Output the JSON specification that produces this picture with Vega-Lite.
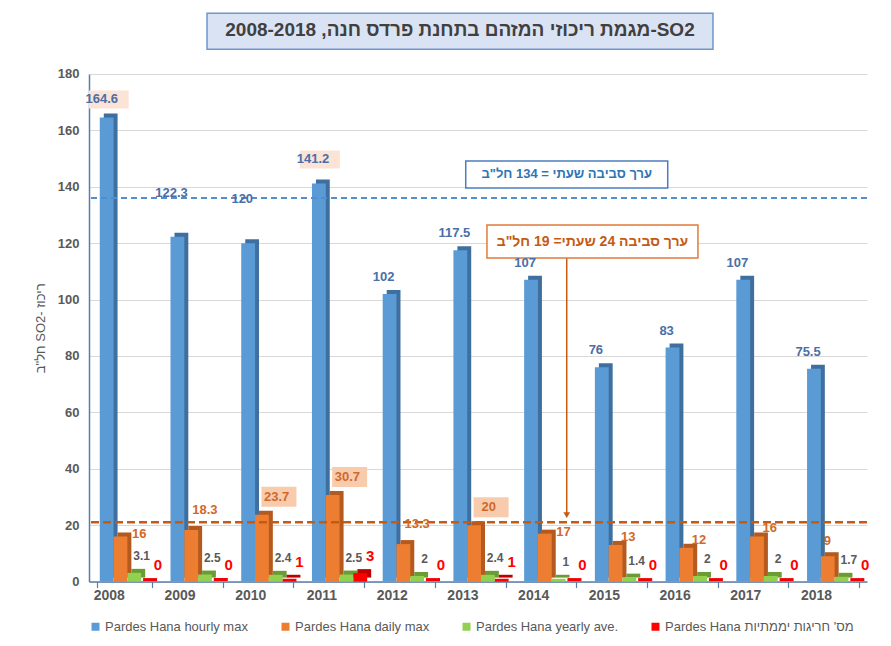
{
  "$schema": "https://vega.github.io/schema/vega-lite/v6.json",
  "width": 778,
  "height": 507.6,
  "padding": {"left": 34, "top": 12, "right": 20, "bottom": 4},
  "background": "white",
  "config": {
    "view": {"stroke": null},
    "font": "Liberation Sans"
  },
  "title": {
    "text": "\u202BSO2-מגמת ריכוזי המזהם בתחנת פרדס חנה, 2008-2018\u202C",
    "font": "Liberation Sans",
    "fontSize": 19,
    "fontWeight": "bold",
    "color": "#404040",
    "anchor": "middle",
    "dx": -18,
    "offset": -28
  },
  "resolve": {"scale": {"xOffset": "independent", "color": "independent"}},
  "datasets": {
    "so2": [
      {"year": "2008", "series": "Pardes Hana hourly max", "value": 164.6},
      {"year": "2009", "series": "Pardes Hana hourly max", "value": 122.3},
      {"year": "2010", "series": "Pardes Hana hourly max", "value": 120},
      {"year": "2011", "series": "Pardes Hana hourly max", "value": 141.2},
      {"year": "2012", "series": "Pardes Hana hourly max", "value": 102},
      {"year": "2013", "series": "Pardes Hana hourly max", "value": 117.5},
      {"year": "2014", "series": "Pardes Hana hourly max", "value": 107},
      {"year": "2015", "series": "Pardes Hana hourly max", "value": 76},
      {"year": "2016", "series": "Pardes Hana hourly max", "value": 83},
      {"year": "2017", "series": "Pardes Hana hourly max", "value": 107},
      {"year": "2018", "series": "Pardes Hana hourly max", "value": 75.5},
      {"year": "2008", "series": "Pardes Hana daily max", "value": 16},
      {"year": "2009", "series": "Pardes Hana daily max", "value": 18.3},
      {"year": "2010", "series": "Pardes Hana daily max", "value": 23.7},
      {"year": "2011", "series": "Pardes Hana daily max", "value": 30.7},
      {"year": "2012", "series": "Pardes Hana daily max", "value": 13.3},
      {"year": "2013", "series": "Pardes Hana daily max", "value": 20},
      {"year": "2014", "series": "Pardes Hana daily max", "value": 17},
      {"year": "2015", "series": "Pardes Hana daily max", "value": 13},
      {"year": "2016", "series": "Pardes Hana daily max", "value": 12},
      {"year": "2017", "series": "Pardes Hana daily max", "value": 16},
      {"year": "2018", "series": "Pardes Hana daily max", "value": 9},
      {"year": "2008", "series": "Pardes Hana yearly ave.", "value": 3.1},
      {"year": "2009", "series": "Pardes Hana yearly ave.", "value": 2.5},
      {"year": "2010", "series": "Pardes Hana yearly ave.", "value": 2.4},
      {"year": "2011", "series": "Pardes Hana yearly ave.", "value": 2.5},
      {"year": "2012", "series": "Pardes Hana yearly ave.", "value": 2},
      {"year": "2013", "series": "Pardes Hana yearly ave.", "value": 2.4},
      {"year": "2014", "series": "Pardes Hana yearly ave.", "value": 1},
      {"year": "2015", "series": "Pardes Hana yearly ave.", "value": 1.4},
      {"year": "2016", "series": "Pardes Hana yearly ave.", "value": 2},
      {"year": "2017", "series": "Pardes Hana yearly ave.", "value": 2},
      {"year": "2018", "series": "Pardes Hana yearly ave.", "value": 1.7},
      {"year": "2008", "series": "Pardes Hana מס' חריגות יממתיות", "value": 0},
      {"year": "2009", "series": "Pardes Hana מס' חריגות יממתיות", "value": 0},
      {"year": "2010", "series": "Pardes Hana מס' חריגות יממתיות", "value": 1},
      {"year": "2011", "series": "Pardes Hana מס' חריגות יממתיות", "value": 3},
      {"year": "2012", "series": "Pardes Hana מס' חריגות יממתיות", "value": 0},
      {"year": "2013", "series": "Pardes Hana מס' חריגות יממתיות", "value": 1},
      {"year": "2014", "series": "Pardes Hana מס' חריגות יממתיות", "value": 0},
      {"year": "2015", "series": "Pardes Hana מס' חריגות יממתיות", "value": 0},
      {"year": "2016", "series": "Pardes Hana מס' חריגות יממתיות", "value": 0},
      {"year": "2017", "series": "Pardes Hana מס' חריגות יממתיות", "value": 0},
      {"year": "2018", "series": "Pardes Hana מס' חריגות יממתיות", "value": 0}
    ]
  },
  "layer": [
    {
      "data": {"values": [{}]},
      "mark": {"type": "tick", "size": 506, "thickness": 36, "fill": "#dae3f3", "stroke": "#6f96cc", "strokeWidth": 1.5, "opacity": 1, "xOffset": -18},
      "encoding": {
        "x": {"datum": "2013", "type": "nominal"},
        "y": {"datum": 195.2, "type": "quantitative"}
      }
    },
    {
      "data": {"name": "so2"},
      "mark": {"type": "bar", "yOffset": -4, "y2Offset": 0},
      "encoding": {
        "x": {
          "field": "year", "type": "nominal",
          "scale": {"paddingInner": 0.22, "paddingOuter": 0.11},
          "axis": {"title": null, "labelAngle": 0, "labelFont": "Liberation Sans", "labelFontSize": 14, "labelFontWeight": "bold", "labelColor": "#595959", "labelPadding": 8, "domainColor": "#5a7bab", "domainWidth": 1.5, "tickColor": "#5a7bab", "tickSize": 6, "tickWidth": 1.2, "tickBand": "extent", "grid": false}
        },
        "xOffset": {"field": "series", "type": "nominal", "scale": {"domain": ["Pardes Hana hourly max", "Pardes Hana daily max", "Pardes Hana yearly ave.", "Pardes Hana מס' חריגות יממתיות"], "range": [7, 62.2], "paddingInner": 0, "paddingOuter": 0}},
        "y": {
          "field": "value", "type": "quantitative",
          "scale": {"domain": [0, 180], "nice": false},
          "axis": {"title": "\u202Bריכוז -SO2 חל\"ב\u202C", "titleFont": "Liberation Sans", "titleFontSize": 13, "titleFontWeight": "normal", "titleColor": "#595959", "titlePadding": 10, "values": [0, 20, 40, 60, 80, 100, 120, 140, 160, 180], "labelFont": "Liberation Sans", "labelFontSize": 13, "labelFontWeight": "bold", "labelColor": "#595959", "labelPadding": 10, "ticks": false, "domainColor": "#5a7bab", "domainWidth": 1.5, "grid": true, "gridColor": "#d9d9d9", "gridWidth": 1}
        },
        "color": {"field": "series", "type": "nominal", "scale": {"domain": ["Pardes Hana hourly max", "Pardes Hana daily max", "Pardes Hana yearly ave.", "Pardes Hana מס' חריגות יממתיות"], "range": ["#3f6f9f", "#b45a1e", "#6a9c35", "#c00000"]}, "legend": null}
      }
    },
    {
      "data": {"name": "so2"},
      "mark": {"type": "bar"},
      "encoding": {
        "x": {"field": "year", "type": "nominal"},
        "xOffset": {"field": "series", "type": "nominal", "scale": {"domain": ["Pardes Hana hourly max", "Pardes Hana daily max", "Pardes Hana yearly ave.", "Pardes Hana מס' חריגות יממתיות"], "range": [3, 58.2], "paddingInner": 0, "paddingOuter": 0}},
        "y": {"field": "value", "type": "quantitative"},
        "color": {
          "field": "series", "type": "nominal",
          "scale": {"domain": ["Pardes Hana hourly max", "Pardes Hana daily max", "Pardes Hana yearly ave.", "Pardes Hana מס' חריגות יממתיות"], "range": ["#5b9bd5", "#ed7d31", "#92d050", "#ff0000"]},
          "legend": {"title": null, "orient": "bottom", "direction": "horizontal", "symbolType": "square", "symbolSize": 64, "symbolStrokeWidth": 0, "labelFont": "Liberation Sans", "labelFontSize": 13, "labelColor": "#595959", "columnPadding": 30, "labelOffset": 3, "offset": 17, "labelLimit": 300}
        }
      }
    },
    {
      "data": {"name": "so2"},
      "transform": [{"filter": {"and": [{"field": "series", "equal": "Pardes Hana מס' חריגות יממתיות"}, {"field": "value", "equal": 0}]}}],
      "mark": {"type": "tick", "thickness": 3, "size": 14, "color": "#f00000", "opacity": 1, "yOffset": -2},
      "encoding": {
        "x": {"field": "year", "type": "nominal"},
        "xOffset": {"field": "series", "type": "nominal", "scale": {"domain": ["Pardes Hana hourly max", "Pardes Hana daily max", "Pardes Hana yearly ave.", "Pardes Hana מס' חריגות יממתיות"], "range": [5, 60.2], "paddingInner": 0, "paddingOuter": 0}},
        "y": {"field": "value", "type": "quantitative"}
      }
    },
    {
      "data": {"values": [{}]},
      "mark": {"type": "rule", "color": "#4f8fd0", "strokeWidth": 2, "strokeDash": [6, 4]},
      "encoding": {"y": {"datum": 136, "type": "quantitative"}}
    },
    {
      "data": {"values": [{}]},
      "mark": {"type": "rule", "color": "#c55a11", "strokeWidth": 2.5, "strokeDash": [8, 4]},
      "encoding": {"y": {"datum": 21, "type": "quantitative"}}
    },
    {
      "data": {"name": "so2"},
      "transform": [{"filter": {"and": [{"field": "series", "equal": "Pardes Hana hourly max"}, {"field": "year", "equal": "2008"}]}}],
      "mark": {"type": "tick", "size": 40, "thickness": 18, "color": "#fbe3d5", "opacity": 1, "xOffset": -15.7, "yOffset": -18},
      "encoding": {
        "x": {"field": "year", "type": "nominal"},
        "y": {"field": "value", "type": "quantitative"}
      }
    },
    {
      "data": {"name": "so2"},
      "transform": [{"filter": {"and": [{"field": "series", "equal": "Pardes Hana hourly max"}, {"field": "year", "equal": "2011"}]}}],
      "mark": {"type": "tick", "size": 40, "thickness": 18, "color": "#fbe3d5", "opacity": 1, "xOffset": -16.7, "yOffset": -24},
      "encoding": {
        "x": {"field": "year", "type": "nominal"},
        "y": {"field": "value", "type": "quantitative"}
      }
    },
    {
      "data": {"name": "so2"},
      "transform": [{"filter": {"and": [{"field": "series", "equal": "Pardes Hana daily max"}, {"field": "year", "oneOf": ["2010", "2011", "2013"]}]}}],
      "mark": {"type": "tick", "size": 35, "thickness": 20, "color": "#f8cbad", "opacity": 1, "xOffset": 13.1, "yOffset": -18},
      "encoding": {
        "x": {"field": "year", "type": "nominal"},
        "y": {"field": "value", "type": "quantitative"}
      }
    },
    {
      "data": {"values": [{}]},
      "mark": {"type": "tick", "size": 202, "thickness": 27, "fill": "white", "stroke": "#4a7ebb", "strokeWidth": 1.5, "opacity": 1, "xOffset": 18},
      "encoding": {
        "x": {"datum": "2014", "type": "nominal"},
        "y": {"datum": 144.4, "type": "quantitative"}
      }
    },
    {
      "data": {"values": [{}]},
      "mark": {"type": "text", "text": "\u202Bערך סביבה שעתי = 134 חל\"ב\u202C", "fontSize": 13, "fontWeight": "bold", "color": "#2e75b6", "dx": 18, "baseline": "middle", "align": "center"},
      "encoding": {
        "x": {"datum": "2014", "type": "nominal"},
        "y": {"datum": 144.4, "type": "quantitative"}
      }
    },
    {
      "data": {"values": [{}]},
      "mark": {"type": "rule", "color": "#c55a11", "strokeWidth": 1.5, "xOffset": 18},
      "encoding": {
        "x": {"datum": "2014", "type": "nominal"},
        "y": {"datum": 114.7, "type": "quantitative"},
        "y2": {"datum": 24}
      }
    },
    {
      "data": {"values": [{}]},
      "mark": {"type": "point", "shape": "triangle-down", "filled": true, "size": 45, "color": "#c55a11", "opacity": 1, "xOffset": 18},
      "encoding": {
        "x": {"datum": "2014", "type": "nominal"},
        "y": {"datum": 23.6, "type": "quantitative"}
      }
    },
    {
      "data": {"values": [{}]},
      "mark": {"type": "tick", "size": 211, "thickness": 33, "fill": "white", "stroke": "#e07b3a", "strokeWidth": 1.5, "opacity": 1, "xOffset": -27},
      "encoding": {
        "x": {"datum": "2015", "type": "nominal"},
        "y": {"datum": 120.6, "type": "quantitative"}
      }
    },
    {
      "data": {"values": [{}]},
      "mark": {"type": "text", "text": "\u202Bערך סביבה 24 שעתי= 19 חל\"ב\u202C", "fontSize": 14, "fontWeight": "bold", "color": "#c55a11", "dx": -27, "baseline": "middle", "align": "center"},
      "encoding": {
        "x": {"datum": "2015", "type": "nominal"},
        "y": {"datum": 120.6, "type": "quantitative"}
      }
    },
    {
      "data": {"name": "so2"},
      "transform": [{"filter": {"and": [{"field": "series", "equal": "Pardes Hana hourly max"}, {"field": "year", "oneOf": ["2012", "2013", "2014", "2015", "2016", "2017", "2018"]}]}}],
      "mark": {"type": "text", "dx": 4, "dy": -17, "fontSize": 13, "fontWeight": "bold", "color": "#4a6ea8", "baseline": "middle", "align": "center"},
      "encoding": {
        "x": {"field": "year", "type": "nominal"},
        "xOffset": {"field": "series", "type": "nominal", "scale": {"domain": ["Pardes Hana hourly max", "Pardes Hana daily max", "Pardes Hana yearly ave.", "Pardes Hana מס' חריגות יממתיות"], "paddingInner": 0, "paddingOuter": 0}},
        "y": {"field": "value", "type": "quantitative"},
        "text": {"field": "value", "type": "nominal"}
      }
    },
    {
      "data": {"name": "so2"},
      "transform": [{"filter": {"and": [{"field": "series", "equal": "Pardes Hana hourly max"}, {"field": "year", "oneOf": ["2009", "2010"]}]}}],
      "mark": {"type": "text", "dx": 4, "dy": -44, "fontSize": 13, "fontWeight": "bold", "color": "#4a6ea8", "baseline": "middle", "align": "center"},
      "encoding": {
        "x": {"field": "year", "type": "nominal"},
        "xOffset": {"field": "series", "type": "nominal", "scale": {"domain": ["Pardes Hana hourly max", "Pardes Hana daily max", "Pardes Hana yearly ave.", "Pardes Hana מס' חריגות יממתיות"], "paddingInner": 0, "paddingOuter": 0}},
        "y": {"field": "value", "type": "quantitative"},
        "text": {"field": "value", "type": "nominal"}
      }
    },
    {
      "data": {"name": "so2"},
      "transform": [{"filter": {"and": [{"field": "series", "equal": "Pardes Hana hourly max"}, {"field": "year", "equal": "2008"}]}}],
      "mark": {"type": "text", "dx": 5, "dy": -18, "fontSize": 13, "fontWeight": "bold", "color": "#4a6ea8", "baseline": "middle", "align": "center"},
      "encoding": {
        "x": {"field": "year", "type": "nominal"},
        "xOffset": {"field": "series", "type": "nominal", "scale": {"domain": ["Pardes Hana hourly max", "Pardes Hana daily max", "Pardes Hana yearly ave.", "Pardes Hana מס' חריגות יממתיות"], "paddingInner": 0, "paddingOuter": 0}},
        "y": {"field": "value", "type": "quantitative"},
        "text": {"field": "value", "type": "nominal"}
      }
    },
    {
      "data": {"name": "so2"},
      "transform": [{"filter": {"and": [{"field": "series", "equal": "Pardes Hana hourly max"}, {"field": "year", "equal": "2011"}]}}],
      "mark": {"type": "text", "dx": 4, "dy": -24, "fontSize": 13, "fontWeight": "bold", "color": "#4a6ea8", "baseline": "middle", "align": "center"},
      "encoding": {
        "x": {"field": "year", "type": "nominal"},
        "xOffset": {"field": "series", "type": "nominal", "scale": {"domain": ["Pardes Hana hourly max", "Pardes Hana daily max", "Pardes Hana yearly ave.", "Pardes Hana מס' חריגות יממתיות"], "paddingInner": 0, "paddingOuter": 0}},
        "y": {"field": "value", "type": "quantitative"},
        "text": {"field": "value", "type": "nominal"}
      }
    },
    {
      "data": {"name": "so2"},
      "transform": [{"filter": {"and": [{"field": "series", "equal": "Pardes Hana daily max"}, {"field": "year", "oneOf": ["2010", "2011", "2013"]}]}}],
      "mark": {"type": "text", "dx": 20, "dy": -18, "fontSize": 13, "fontWeight": "bold", "color": "#d0692a", "baseline": "middle", "align": "center"},
      "encoding": {
        "x": {"field": "year", "type": "nominal"},
        "xOffset": {"field": "series", "type": "nominal", "scale": {"domain": ["Pardes Hana hourly max", "Pardes Hana daily max", "Pardes Hana yearly ave.", "Pardes Hana מס' חריגות יממתיות"], "paddingInner": 0, "paddingOuter": 0}},
        "y": {"field": "value", "type": "quantitative"},
        "text": {"field": "value", "type": "nominal"}
      }
    },
    {
      "data": {"name": "so2"},
      "transform": [{"filter": {"and": [{"field": "series", "equal": "Pardes Hana daily max"}, {"field": "year", "oneOf": ["2009", "2012"]}]}}],
      "mark": {"type": "text", "dx": 19, "dy": -20, "fontSize": 13, "fontWeight": "bold", "color": "#d0692a", "baseline": "middle", "align": "center"},
      "encoding": {
        "x": {"field": "year", "type": "nominal"},
        "xOffset": {"field": "series", "type": "nominal", "scale": {"domain": ["Pardes Hana hourly max", "Pardes Hana daily max", "Pardes Hana yearly ave.", "Pardes Hana מס' חריגות יממתיות"], "paddingInner": 0, "paddingOuter": 0}},
        "y": {"field": "value", "type": "quantitative"},
        "text": {"field": "value", "type": "nominal"}
      }
    },
    {
      "data": {"name": "so2"},
      "transform": [{"filter": {"and": [{"field": "series", "equal": "Pardes Hana daily max"}, {"field": "year", "oneOf": ["2008", "2014"]}]}}],
      "mark": {"type": "text", "dx": 24, "dy": -2, "fontSize": 13, "fontWeight": "bold", "color": "#d0692a", "baseline": "middle", "align": "center"},
      "encoding": {
        "x": {"field": "year", "type": "nominal"},
        "xOffset": {"field": "series", "type": "nominal", "scale": {"domain": ["Pardes Hana hourly max", "Pardes Hana daily max", "Pardes Hana yearly ave.", "Pardes Hana מס' חריגות יממתיות"], "paddingInner": 0, "paddingOuter": 0}},
        "y": {"field": "value", "type": "quantitative"},
        "text": {"field": "value", "type": "nominal"}
      }
    },
    {
      "data": {"name": "so2"},
      "transform": [{"filter": {"and": [{"field": "series", "equal": "Pardes Hana daily max"}, {"field": "year", "oneOf": ["2015", "2016", "2017"]}]}}],
      "mark": {"type": "text", "dx": 18, "dy": -8, "fontSize": 13, "fontWeight": "bold", "color": "#d0692a", "baseline": "middle", "align": "center"},
      "encoding": {
        "x": {"field": "year", "type": "nominal"},
        "xOffset": {"field": "series", "type": "nominal", "scale": {"domain": ["Pardes Hana hourly max", "Pardes Hana daily max", "Pardes Hana yearly ave.", "Pardes Hana מס' חריגות יממתיות"], "paddingInner": 0, "paddingOuter": 0}},
        "y": {"field": "value", "type": "quantitative"},
        "text": {"field": "value", "type": "nominal"}
      }
    },
    {
      "data": {"name": "so2"},
      "transform": [{"filter": {"and": [{"field": "series", "equal": "Pardes Hana daily max"}, {"field": "year", "equal": "2018"}]}}],
      "mark": {"type": "text", "dx": 5, "dy": -15, "fontSize": 13, "fontWeight": "bold", "color": "#d0692a", "baseline": "middle", "align": "center"},
      "encoding": {
        "x": {"field": "year", "type": "nominal"},
        "xOffset": {"field": "series", "type": "nominal", "scale": {"domain": ["Pardes Hana hourly max", "Pardes Hana daily max", "Pardes Hana yearly ave.", "Pardes Hana מס' חריגות יממתיות"], "paddingInner": 0, "paddingOuter": 0}},
        "y": {"field": "value", "type": "quantitative"},
        "text": {"field": "value", "type": "nominal"}
      }
    },
    {
      "data": {"name": "so2"},
      "transform": [{"filter": {"field": "series", "equal": "Pardes Hana yearly ave."}}],
      "mark": {"type": "text", "dx": 8, "dy": -17, "fontSize": 12, "fontWeight": "bold", "color": "#595959", "baseline": "middle", "align": "center"},
      "encoding": {
        "x": {"field": "year", "type": "nominal"},
        "xOffset": {"field": "series", "type": "nominal", "scale": {"domain": ["Pardes Hana hourly max", "Pardes Hana daily max", "Pardes Hana yearly ave.", "Pardes Hana מס' חריגות יממתיות"], "paddingInner": 0, "paddingOuter": 0}},
        "y": {"field": "value", "type": "quantitative"},
        "text": {"field": "value", "type": "nominal"}
      }
    },
    {
      "data": {"name": "so2"},
      "transform": [{"filter": {"field": "series", "equal": "Pardes Hana מס' חריגות יממתיות"}}],
      "mark": {"type": "text", "dx": 6, "dy": -17, "fontSize": 15, "fontWeight": "bold", "color": "#ff0000", "baseline": "middle", "align": "center"},
      "encoding": {
        "x": {"field": "year", "type": "nominal"},
        "xOffset": {"field": "series", "type": "nominal", "scale": {"domain": ["Pardes Hana hourly max", "Pardes Hana daily max", "Pardes Hana yearly ave.", "Pardes Hana מס' חריגות יממתיות"], "paddingInner": 0, "paddingOuter": 0}},
        "y": {"field": "value", "type": "quantitative"},
        "text": {"field": "value", "type": "nominal"}
      }
    }
  ]
}
